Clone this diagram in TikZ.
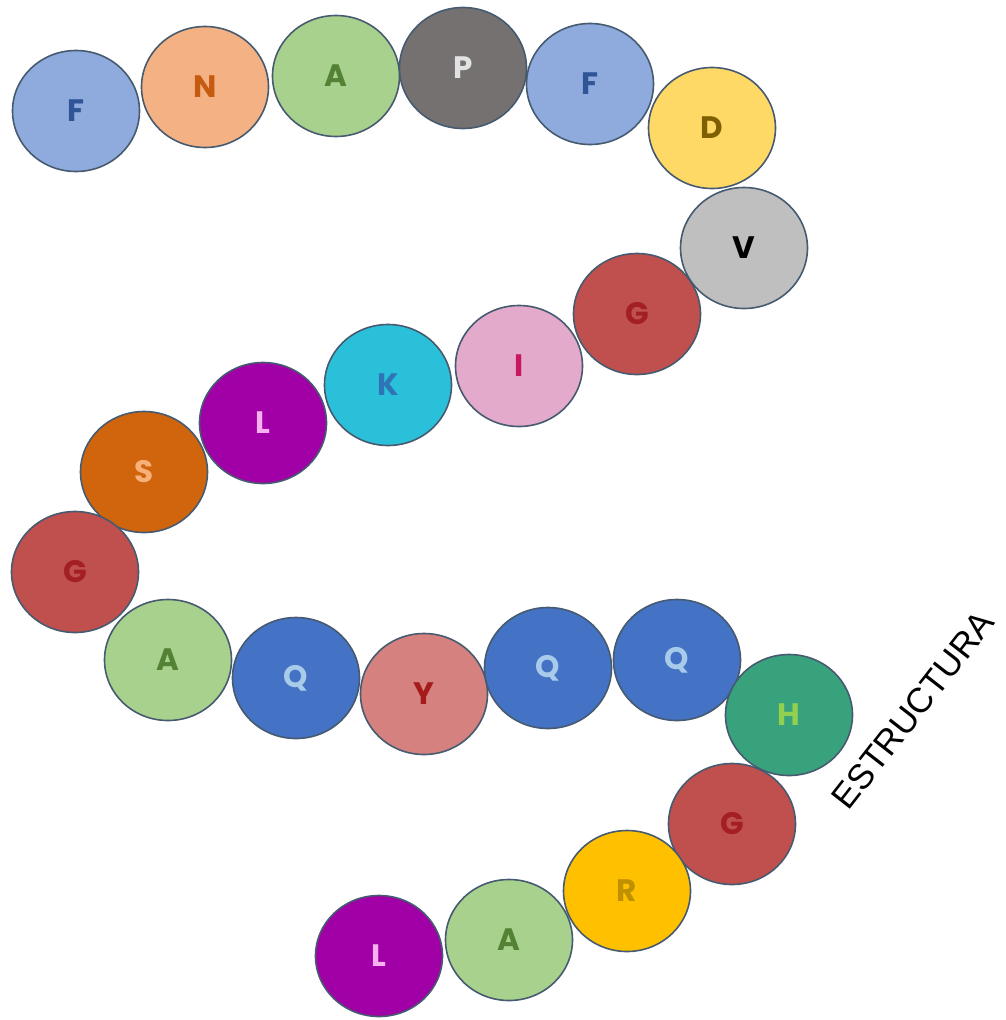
\documentclass[tikz,border=0pt]{standalone}
\usepackage{fontspec}
\usepackage{xcolor}
\usetikzlibrary{shapes.geometric}
\newfontfamily\beadfont{Poppins}
\newfontfamily\labelfont{Liberation Sans}
\definecolor{beadline}{HTML}{465A70}
\definecolor{paleblue}{HTML}{8FAADC}
\definecolor{paleblueink}{HTML}{2F5597}
\definecolor{peach}{HTML}{F4B183}
\definecolor{peachink}{HTML}{C55A11}
\definecolor{leaf}{HTML}{A9D18E}
\definecolor{leafink}{HTML}{548235}
\definecolor{slate}{HTML}{767171}
\definecolor{slateink}{HTML}{E2E2E2}
\definecolor{butter}{HTML}{FFD966}
\definecolor{butterink}{HTML}{7F6000}
\definecolor{silver}{HTML}{BFBFBF}
\definecolor{brick}{HTML}{C0504D}
\definecolor{brickink}{HTML}{A31F22}
\definecolor{blush}{HTML}{E3AACB}
\definecolor{blushink}{HTML}{C8175E}
\definecolor{aqua}{HTML}{2BC0DA}
\definecolor{aquaink}{HTML}{2E75B6}
\definecolor{plum}{HTML}{A000A6}
\definecolor{plumink}{HTML}{F7B0F0}
\definecolor{rust}{HTML}{D0650E}
\definecolor{rustink}{HTML}{F8B07A}
\definecolor{royal}{HTML}{4472C4}
\definecolor{royalink}{HTML}{A9CBEA}
\definecolor{rose}{HTML}{D4817F}
\definecolor{roseink}{HTML}{A51B1B}
\definecolor{jade}{HTML}{38A27D}
\definecolor{jadeink}{HTML}{92D050}
\definecolor{amber}{HTML}{FFC000}
\definecolor{amberink}{HTML}{BF9000}

\begin{document}
\begin{tikzpicture}[
  x=1pt,y=-1pt,
  bead/.style={ellipse,draw=beadline,line width=1.6pt,
    minimum width=127pt,minimum height=121pt,inner sep=0pt,
    font=\beadfont\bfseries\fontsize{31}{31}\selectfont},
  fbead/.style={bead,fill=paleblue,text=paleblueink},
  nbead/.style={bead,fill=peach,text=peachink},
  abead/.style={bead,fill=leaf,text=leafink},
  pbead/.style={bead,fill=slate,text=slateink},
  dbead/.style={bead,fill=butter,text=butterink},
  vbead/.style={bead,fill=silver,text=black},
  gbead/.style={bead,fill=brick,text=brickink},
  ibead/.style={bead,fill=blush,text=blushink},
  kbead/.style={bead,fill=aqua,text=aquaink},
  lbead/.style={bead,fill=plum,text=plumink},
  sbead/.style={bead,fill=rust,text=rustink},
  qbead/.style={bead,fill=royal,text=royalink},
  ybead/.style={bead,fill=rose,text=roseink},
  hbead/.style={bead,fill=jade,text=jadeink},
  rbead/.style={bead,fill=amber,text=amberink}
]
  \useasboundingbox (0,0) rectangle (1005,1020);
  % top row
  \node[fbead] (f1) at (76,111) {F};
  \node[nbead] (n1) at (205,87) {N};
  \node[abead] (a1) at (336,76) {A};
  \node[pbead] (p1) at (463,68) {P};
  \node[fbead] (f2) at (590,84) {F};
  \node[dbead] (d1) at (712,128) {D};
  \node[vbead] (v1) at (744,248) {V};
  % middle row
  \node[gbead] (g1) at (637,314) {G};
  \node[ibead] (i1) at (519,366) {I};
  \node[kbead] (k1) at (388,385) {K};
  \node[lbead] (l1) at (263,423) {L};
  \node[sbead] (s1) at (144,472) {S};
  \node[gbead] (g2) at (75,572) {G};
  % lower row
  \node[abead] (a2) at (168,660) {A};
  \node[qbead] (q1) at (296,678) {Q};
  \node[ybead] (y1) at (424,694) {Y};
  \node[qbead] (q2) at (548,668) {Q};
  \node[qbead] (q3) at (677,660) {Q};
  \node[hbead] (h1) at (789,715) {H};
  % tail
  \node[gbead] (g3) at (732,824) {G};
  \node[rbead] (r1) at (627,891) {R};
  \node[abead] (a3) at (509,940) {A};
  \node[lbead] (l2) at (379,956) {L};
  \node[rotate=52,font=\labelfont\fontsize{35}{35}\selectfont] (title) at (913,710) {ESTRUCTURA};
\end{tikzpicture}
\end{document}
